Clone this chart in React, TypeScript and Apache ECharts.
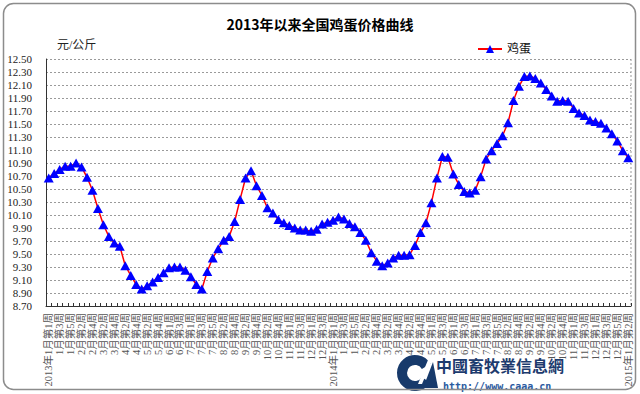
import React, { useEffect, useRef } from 'react';
import * as echarts from 'echarts';

const titleText = '2013年以来全国鸡蛋价格曲线';
const unitText = '元/公斤';
const seriesName = '鸡蛋';
const watermarkName = '中國畜牧業信息網';
const watermarkUrl = 'http://www.caaa.cn';

// weeks per month, used to build the weekly category names
const years = [2013, 2014, 2015];
const weeks2013 = [5, 4, 4, 4, 5, 4, 5, 4, 4, 5, 4, 4];
const weeks2014 = [5, 4, 4, 5, 4, 4, 5, 4, 4, 5, 4, 5];
const weeks2015 = [2];

const eggPrices = [
  10.67, 10.74, 10.80, 10.85, 10.85, 10.90, 10.84, 10.68, 10.48, 10.20,
  9.95, 9.77, 9.67, 9.62, 9.32, 9.17, 9.03, 8.96, 9.01, 9.07,
  9.14, 9.21, 9.29, 9.30, 9.30, 9.25, 9.15, 9.03, 8.96, 9.23,
  9.44, 9.58, 9.71, 9.77, 10.00, 10.34, 10.67, 10.78, 10.55, 10.40,
  10.21, 10.13, 10.03, 9.98, 9.94, 9.90, 9.87, 9.87, 9.85, 9.88,
  9.96, 9.99, 10.02, 10.07, 10.04, 9.97, 9.92, 9.83, 9.71, 9.52,
  9.39, 9.32, 9.36, 9.44, 9.48, 9.48, 9.49, 9.63, 9.83, 9.98,
  10.29, 10.67, 11.00, 10.99, 10.73, 10.57, 10.46, 10.44, 10.48, 10.69,
  10.96, 11.09, 11.20, 11.32, 11.52, 11.86, 12.08, 12.23, 12.24, 12.20,
  12.13, 12.03, 11.93, 11.85, 11.86, 11.85, 11.74, 11.67, 11.63, 11.56,
  11.54, 11.51, 11.44, 11.35, 11.24, 11.09, 10.98,
];

const yTickValues = [
  8.7, 8.9, 9.1, 9.3, 9.5, 9.7, 9.9, 10.1, 10.3, 10.5,
  10.7, 10.9, 11.1, 11.3, 11.5, 11.7, 11.9, 12.1, 12.3, 12.5,
];

function buildCategories(): string[] {
  const out: string[] = [];
  const perYear = [weeks2013, weeks2014, weeks2015];
  perYear.forEach((months, yi) => {
    const partial = yi === perYear.length - 1;
    months.forEach((n, mi) => {
      for (let w = 1; w <= n; w++) {
        const prefix = mi === 0 && (w === 1 || partial) ? `${years[yi]}年` : '';
        out.push(`${prefix}${mi + 1}月第${w}周`);
      }
    });
  });
  return out;
}

const categories = buildCategories();

export default function App() {
  const ref = useRef<HTMLDivElement>(null);

  useEffect(() => {
    if (!ref.current) return;
    const chart = echarts.init(ref.current, undefined, { renderer: 'svg' });
    const serif = '"Liberation Serif", "Noto Sans CJK SC", serif';
    const option: any = {
      animation: false,
      backgroundColor: '#ffffff',
      title: {
        text: titleText,
        left: 'center',
        top: 12,
        textStyle: {
          fontSize: 14,
          fontWeight: 'bold',
          color: '#000',
          fontFamily: '"Noto Sans CJK SC", sans-serif',
        },
      },
      legend: {
        data: [seriesName],
        left: 472,
        top: 38,
        itemWidth: 24,
        itemHeight: 10,
        itemGap: 3,
        textStyle: { fontSize: 12, color: '#111', fontFamily: serif },
      },
      grid: { left: 46, right: 9, top: 59, bottom: 88, containLabel: false },
      xAxis: {
        type: 'category',
        data: categories,
        boundaryGap: true,
        axisLine: { show: true, lineStyle: { color: '#333', width: 1 } },
        axisTick: { show: true, inside: true, length: 3, interval: 0, lineStyle: { color: '#333' } },
        axisLabel: {
          interval: 1,
          rotate: 90,
          margin: 7,
          fontSize: 10.5,
          color: '#555',
          fontFamily: serif,
        },
        splitLine: { show: false },
      },
      yAxis: {
        type: 'value',
        min: 8.7,
        max: 12.5,
        axisLine: { show: true, lineStyle: { color: '#333', width: 1 } },
        axisTick: { show: false, customValues: yTickValues },
        axisLabel: {
          customValues: yTickValues,
          formatter: (v: number) => v.toFixed(2),
          fontSize: 11,
          color: '#222',
          margin: 14,
          fontFamily: serif,
        },
        splitLine: {
          show: true,
          lineStyle: { color: '#9a9a9a', type: [2, 2], width: 1 },
        },
      },
      series: [
        {
          name: seriesName,
          type: 'line',
          data: eggPrices,
          symbol: 'triangle',
          symbolSize: [10, 9],
          showAllSymbol: true,
          lineStyle: { color: '#ff0000', width: 1.5 },
          itemStyle: { color: '#0000ff', borderWidth: 0 },
        },
      ],
      graphic: [
        {
          type: 'rect',
          shape: { x: 3.5, y: 3.5, width: 632, height: 386, r: 10 },
          style: { fill: 'none', stroke: '#8c8c8c', lineWidth: 1.5 },
          silent: true,
          z: 100,
        },
        {
          type: 'line',
          shape: { x1: 631, y1: 59, x2: 631, y2: 306 },
          style: { stroke: '#9a9a9a', lineWidth: 1, lineDash: [2, 2] },
          silent: true,
        },
        {
          type: 'text',
          x: 57,
          y: 45,
          style: {
            text: unitText,
            fontSize: 12,
            fill: '#222',
            verticalAlign: 'middle',
            fontFamily: serif,
          },
        },
        {
          type: 'group',
          z: 50,
          children: [
            {
              type: 'arc',
              shape: { cx: 415, cy: 373, r: 13, startAngle: 0.55, endAngle: 5.75 },
              style: { stroke: '#173a6b', lineWidth: 10, fill: 'none' },
              z: 50,
            },
            {
              type: 'polygon',
              shape: { points: [[418, 384], [428, 360], [432, 360], [422, 384]] },
              style: { fill: '#ffffff' },
              z: 51,
            },
            {
              type: 'polygon',
              shape: { points: [[423, 388], [433, 362], [438, 388]] },
              style: { fill: '#173a6b' },
              z: 51,
            },
            {
              type: 'text',
              x: 436,
              y: 365,
              style: {
                text: watermarkName,
                fontSize: 16,
                fontWeight: 'bold',
                fill: '#1d3b6e',
                verticalAlign: 'middle',
                fontFamily: '"Noto Sans CJK TC", sans-serif',
              },
              z: 51,
            },
            {
              type: 'text',
              x: 443,
              y: 386,
              style: {
                text: watermarkUrl,
                fontSize: 10,
                fontWeight: 'bold',
                fill: '#2a5aa0',
                verticalAlign: 'middle',
                fontFamily: '"DejaVu Sans Mono", monospace',
              },
              z: 51,
            },
          ],
        },
      ],
    };
    chart.setOption(option);
    return () => chart.dispose();
  }, []);

  return (
    <div
      ref={ref}
      style={{ position: 'fixed', left: 0, top: 0, width: 640, height: 394, background: '#fff' }}
    />
  );
}
